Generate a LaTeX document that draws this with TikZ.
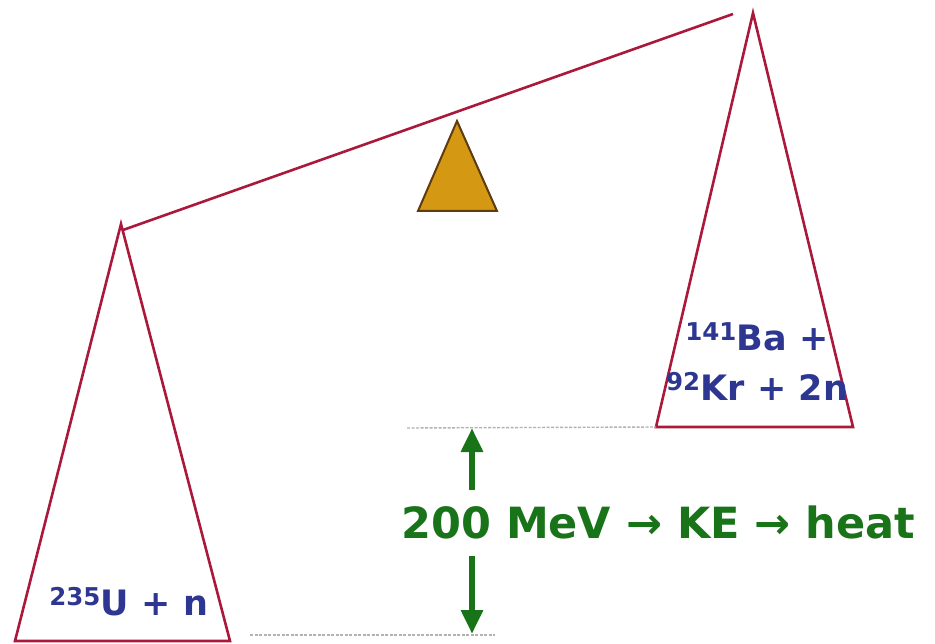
\documentclass[tikz,border=0pt]{standalone}
\usepackage{fontspec}
\setmainfont{DejaVu Sans}
\usetikzlibrary{arrows.meta}

\definecolor{beamred}{RGB}{170,25,60}
\definecolor{pivotfill}{RGB}{212,152,18}
\definecolor{pivotedge}{RGB}{95,60,15}
\definecolor{nucblue}{RGB}{45,55,145}
\definecolor{mevgreen}{RGB}{25,115,25}

\begin{document}
\begin{tikzpicture}[x=1pt,y=-1pt,line width=2.6pt,
    pan/.style={draw=beamred,line join=miter},
    nuc/.style={text=nucblue,font=\fontsize{35}{50}\selectfont\bfseries,inner sep=0pt},
    level/.style={draw=gray!60,line width=1.4pt,dash pattern=on 3pt off 1.5pt},
    kick/.style={draw=mevgreen,line width=6.5pt,-{Triangle[length=24pt,width=21pt]}}]
  \useasboundingbox (0,0) rectangle (935,644);

  % balance pans
  \coordinate (la) at (121,224);
  \coordinate (lbl) at (15,641);
  \coordinate (lbr) at (230,641);
  \coordinate (ra) at (753,13);
  \coordinate (rbl) at (656,427);
  \coordinate (rbr) at (853,427);
  \draw[pan] (la) -- (lbl) -- (lbr) -- cycle;
  \draw[pan] (ra) -- (rbl) -- (rbr) -- cycle;

  % beam and pivot
  \coordinate (bl) at (123,230);
  \coordinate (br) at (733,14);
  \draw[pan] (bl) -- (br);
  \coordinate (pa) at (457,121);
  \coordinate (pl) at (418,211);
  \coordinate (pr) at (497,211);
  \draw[fill=pivotfill,draw=pivotedge,line width=2pt] (pa) -- (pl) -- (pr) -- cycle;

  % nuclei
  \node[nuc,anchor=base west] (u235) at (48,615) {\textsuperscript{235}U + n};
  \node[nuc,align=center,anchor=base] (bakr) at (757,400)
    {\textsuperscript{141}Ba +\\\textsuperscript{92}Kr + 2n};

  % energy levels
  \coordinate (ttop) at (407,428);
  \coordinate (tbot) at (250,635);
  \coordinate (tbotr) at (495,635);
  \draw[level] (ttop) -- (rbl);
  \draw[level] (tbot) -- (tbotr);

  \node[text=mevgreen,font=\fontsize{43}{45}\selectfont\bfseries,anchor=base west,inner sep=0pt]
    (mev) at (400,538) {200 MeV → KE → heat};
  \coordinate (upfoot) at (472,490);
  \coordinate (uptip) at (472,428);
  \coordinate (dnfoot) at (472,556);
  \coordinate (dntip) at (472,634);
  \draw[kick] (upfoot) -- (uptip);
  \draw[kick] (dnfoot) -- (dntip);
\end{tikzpicture}
\end{document}
